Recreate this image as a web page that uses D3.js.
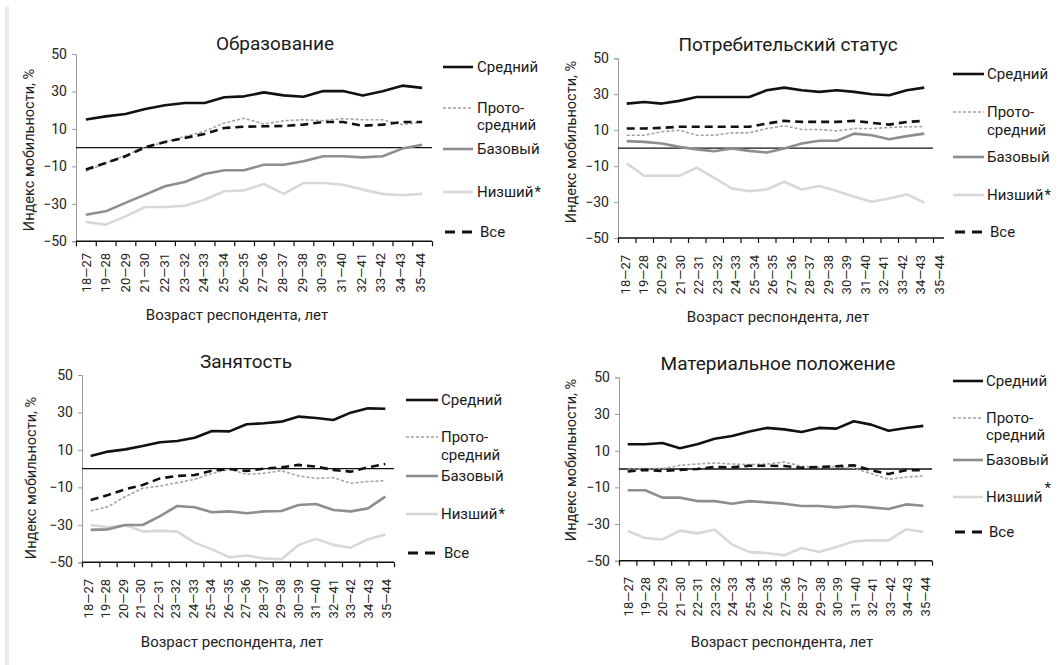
<!DOCTYPE html>
<html>
<head>
<meta charset="utf-8">
<script src="https://cdn.jsdelivr.net/npm/d3@7"></script>
<style>
  body { margin: 0; background: #fff; }
  svg { font-family: Roboto, "Noto Sans", sans-serif; }
</style>
</head>
<body>
<script>
// age windows of respondents
var ageGroups = ["18—27","19—28","20—29","21—30","22—31","23—32","24—33","25—34","26—35",
  "27—36","28—37","29—38","30—39","31—40","32—41","33—42","34—43","35—44"];

var yTicks = [50, 30, 10, -10, -30, -50];

// Образование
var eduMiddle = [15, 16.7, 18, 20.6, 22.6, 23.8, 23.8, 26.9, 27.4, 29.5, 27.9, 27.2, 30.2, 30.2, 27.8, 30.1, 33.1, 31.9];
var eduProto  = [-12.6, -8.2, -4.1, 0.2, 3, 6, 8.7, 13.2, 15.7, 12.6, 14.4, 14.9, 14.4, 15.5, 14.9, 14.9, 12.3, 13.7];
var eduBase   = [-35.8, -34, -29.5, -25.1, -20.6, -18.3, -14.1, -12.1, -12.1, -9.1, -9.1, -7.3, -4.6, -4.6, -5.2, -4.6, -0.5, 1.6];
var eduLow    = [-39.7, -41.1, -36.7, -31.7, -31.7, -31, -27.8, -23.3, -22.8, -19.4, -24.7, -18.9, -18.9, -19.8, -22.4, -24.7, -25.4, -24.7];
var eduAll    = [-11.7, -8.2, -4.6, 0.2, 3, 5.2, 7.3, 10.5, 11.2, 11.4, 11.6, 12.3, 13.7, 13.7, 11.7, 12.3, 13.7, 13.7];

// Потребительский статус
var conMiddle = [24.8, 25.7, 24.8, 26.3, 28.5, 28.5, 28.5, 28.5, 32.2, 33.7, 32.2, 31.3, 32.2, 31.3, 30, 29.4, 32.2, 33.7];
var conProto  = [7.2, 7.2, 9.1, 10, 7.2, 7.2, 8.5, 8.5, 10.9, 12.4, 10.4, 10.4, 9.6, 10.9, 10.9, 11.5, 11.9, 11.9];
var conBase   = [3.9, 3.5, 2.6, 0.7, -0.7, -1.7, -0.2, -1.5, -2.4, -0.2, 2.6, 4.1, 4.1, 8.1, 7.2, 5, 6.7, 8.1];
var conLow    = [-8.5, -15.4, -15.4, -15.4, -10.9, -16.5, -22.4, -23.9, -23, -18.7, -23, -21.1, -23.9, -27, -29.8, -28, -25.6, -30.4];
var conAll    = [10.9, 10.9, 11.3, 11.9, 11.9, 11.9, 11.9, 11.9, 13.7, 15.2, 14.6, 14.6, 14.6, 15.2, 14.1, 13.1, 14.6, 15.2];

// Занятость
var empMiddle = [6.8, 9.1, 10.3, 12.1, 14.1, 14.8, 16.5, 20.1, 19.9, 23.7, 24.2, 25.1, 27.8, 27, 26, 29.9, 32.2, 32];
var empProto  = [-22.6, -20.3, -14.9, -10.5, -9.3, -7.5, -5.7, -2.5, -0.4, -3, -2.5, -1.1, -3.9, -5.2, -4.8, -7.8, -6.9, -6.4];
var empBase   = [-32.7, -32.4, -30.1, -30.1, -25.3, -19.9, -20.6, -23.3, -22.8, -23.8, -22.8, -22.6, -19.4, -18.9, -22.1, -22.8, -21.2, -14.9];
var empLow    = [-30.1, -31.3, -30.1, -33.6, -33.1, -33.6, -39.5, -43.1, -47.3, -46.4, -47.9, -48.4, -40.7, -37.5, -40.7, -42.2, -37.7, -35.1];
var empAll    = [-16.7, -14.1, -11, -8.7, -5.2, -3.9, -3.4, -1.1, -0.2, -1.2, 0, 0.7, 2, 1.1, -0.7, -1.6, 0.7, 2.5];

// Материальное положение
var matMiddle = [13.5, 13.5, 14.2, 11.3, 13.5, 16.5, 18, 20.5, 22.4, 21.6, 20.2, 22.4, 22, 26, 24.2, 20.9, 22.4, 23.5];
var matProto  = [-0.2, 0.2, 0.2, 2, 2.7, 3.3, 2.7, 2.4, 2.7, 3.8, 1.5, 0.9, 1.3, 0.4, -2.5, -5.6, -4.4, -3.8];
var matBase   = [-11.6, -11.6, -15.6, -15.6, -17.5, -17.5, -18.9, -17.5, -18.2, -18.9, -20.2, -20.2, -20.9, -20.2, -20.9, -21.8, -19.3, -20];
var matLow    = [-33.8, -37.6, -38.4, -33.6, -35.1, -33.1, -41.1, -45.3, -45.8, -47.1, -43.1, -45.3, -42.5, -39.5, -38.9, -38.9, -32.9, -34.4];
var matAll    = [-1.3, -0.5, -1.1, -0.5, 0, 1.1, 0.9, 1.8, 1.8, 1.6, 0.7, 1.1, 1.5, 2, -0.7, -2.7, -0.7, -0.7];

// line look for each group, in legend order
var styles = {
  middle: {color: "#111", width: 2.6, dash: null},
  proto:  {color: "#a3a3a3", width: 1.6, dash: "3,2"},
  base:   {color: "#8e8e8e", width: 2.6, dash: null},
  low:    {color: "#d8d8d8", width: 2.6, dash: null},
  all:    {color: "#111", width: 2.6, dash: "8,5"}
};

var panels = [
  {title: "Образование", series: {middle: eduMiddle, proto: eduProto, base: eduBase, low: eduLow, all: eduAll},
   x0: 76, x1: 432, axisEnd: 432, yTop: 54, yBot: 241.3, titleX: 275, titleY: 50,
   lab: [86, 420], labTop: 253, xTitle: [237, 320], yTitle: [29, 150],
   leg: {l0: 443, l1: 473, tx: 477, rows: [67, 108, 125, 149, 192, 232]}, starUp: false},
  {title: "Потребительский статус", series: {middle: conMiddle, proto: conProto, base: conBase, low: conLow, all: conAll},
   x0: 618, x1: 933, axisEnd: 944, yTop: 58.3, yBot: 238, titleX: 788, titleY: 51,
   lab: [625, 939], labTop: 255, xTitle: [778, 322], yTitle: [571, 142],
   leg: {l0: 953, l1: 984, tx: 987, rows: [74, 112, 130, 157, 195, 232]}, starUp: false},
  {title: "Занятость", series: {middle: empMiddle, proto: empProto, base: empBase, low: empLow, all: empAll},
   x0: 82, x1: 394, axisEnd: 394, yTop: 375, yBot: 562.3, titleX: 246, titleY: 368,
   lab: [88, 386], labTop: 579, xTitle: [232, 647], yTitle: [31, 478],
   leg: {l0: 406, l1: 438, tx: 441, rows: [400, 437, 455, 476, 514, 553]}, starUp: false},
  {title: "Материальное положение", series: {middle: matMiddle, proto: matProto, base: matBase, low: matLow, all: matAll},
   x0: 619, x1: 932, axisEnd: 932, yTop: 377.3, yBot: 560.7, titleX: 778, titleY: 370,
   lab: [628, 925], labTop: 577, xTitle: [782, 647], yTitle: [571, 460],
   leg: {l0: 953, l1: 983, tx: 986, rows: [381, 418, 435, 460, 497, 532]}, starUp: true}
];

var svg = d3.select("body").append("svg")
  .attr("width", 1061)
  .attr("height", 665);

// faint page edge on the left
svg.append("rect").attr("x", 5).attr("y", 6).attr("width", 4).attr("height", 659).style("fill", "#ebebeb");

var order = ["low", "base", "proto", "all", "middle"];

panels.forEach(function(p) {
  var g = svg.append("g");

  var x = d3.scaleBand().domain(ageGroups).range([p.x0, p.x1]);
  var xEdge = d3.scaleLinear().domain([0, ageGroups.length]).range([p.x0, p.x1]);
  var xLab = d3.scalePoint().domain(ageGroups).range(p.lab);
  var y = d3.scaleLinear().domain([-50, 50]).range([p.yBot, p.yTop]);

  // y axis
  var yAxis = g.append("g")
    .attr("transform", "translate(" + p.x0 + ",0)")
    .call(d3.axisLeft(y).tickValues(yTicks).tickSize(4).tickPadding(5));
  yAxis.select(".domain").style("stroke", "#9a9a9a");
  yAxis.selectAll(".tick line").style("stroke", "#9a9a9a");
  yAxis.selectAll("text").style("font-size", "14px").style("fill", "#222")
    .style("font-family", "Roboto, sans-serif");

  // x axis with ticks on the band edges
  var xAxis = g.append("g")
    .attr("transform", "translate(0," + p.yBot + ")")
    .call(d3.axisBottom(xEdge).tickValues(d3.range(ageGroups.length + 1)).tickSize(5).tickSizeOuter(0).tickFormat(""));
  xAxis.select(".domain").attr("d", "M" + p.x0 + ",0H" + p.axisEnd).style("stroke", "#111").style("stroke-width", 1.6);
  xAxis.selectAll(".tick line").style("stroke", "#111").style("stroke-width", 1.2);

  g.selectAll(".xlab")
    .data(ageGroups)
    .enter()
    .append("text")
    .attr("transform", function(d) { return "translate(" + (xLab(d) + 4.5) + "," + p.labTop + ") rotate(-90)"; })
    .attr("text-anchor", "end")
    .style("font-size", "13px")
    .style("fill", "#222")
    .text(function(d) { return d; });

  // zero line
  g.append("line")
    .attr("x1", p.x0).attr("x2", p.x1)
    .attr("y1", y(0)).attr("y2", y(0))
    .style("stroke", "#111").style("stroke-width", 1.3);

  var line = d3.line()
    .x(function(d, i) { return x(ageGroups[i]) + x.bandwidth() / 2; })
    .y(function(d) { return y(d); });

  order.forEach(function(k) {
    var s = styles[k];
    g.append("path")
      .datum(p.series[k])
      .attr("d", line)
      .style("fill", "none")
      .style("stroke", s.color)
      .style("stroke-width", s.width)
      .style("stroke-dasharray", s.dash)
      .style("stroke-linejoin", "round");
  });

  // titles
  g.append("text").attr("x", p.titleX).attr("y", p.titleY)
    .attr("text-anchor", "middle").style("font-size", "19px").style("fill", "#1a1a1a")
    .text(p.title);
  g.append("text").attr("x", p.xTitle[0]).attr("y", p.xTitle[1])
    .attr("text-anchor", "middle").style("font-size", "15px").style("fill", "#222")
    .text("Возраст респондента, лет");
  g.append("text")
    .attr("transform", "translate(" + p.yTitle[0] + "," + p.yTitle[1] + ") rotate(-90)")
    .attr("text-anchor", "middle").attr("dy", "0.35em")
    .style("font-size", "14.5px").style("fill", "#222")
    .text("Индекс мобильности, %");

  // legend
  var L = p.leg;
  var legItems = [
    {key: "middle", y: L.rows[0], lines: ["Средний"]},
    {key: "proto", y: L.rows[1], lines: ["Прото-", "средний"]},
    {key: "base", y: L.rows[3], lines: ["Базовый"]},
    {key: "low", y: L.rows[4], lines: ["Низший"]},
    {key: "all", y: L.rows[5], lines: ["Все"]}
  ];
  legItems.forEach(function(it) {
    var s = styles[it.key];
    var isAll = it.key === "all";
    g.append("line")
      .attr("x1", L.l0 + (isAll ? 2 : 0)).attr("x2", L.l1 - (isAll ? 1 : 0))
      .attr("y1", it.y).attr("y2", it.y)
      .style("stroke", s.color).style("stroke-width", isAll ? 3 : s.width)
      .style("stroke-dasharray", isAll ? "10,7" : s.dash);
    var t = g.append("text")
      .attr("x", L.tx + (isAll ? 3 : 0)).attr("y", it.y)
      .attr("dy", "0.35em")
      .style("font-size", "15px").style("fill", "#1a1a1a");
    if (it.key === "proto") {
      t.text(it.lines[0]);
      g.append("text").attr("x", L.tx).attr("y", L.rows[2]).attr("dy", "0.35em")
        .style("font-size", "15px").style("fill", "#1a1a1a").text(it.lines[1]);
    } else if (it.key === "low") {
      t.text(it.lines[0]);
      t.append("tspan").attr("dx", p.starUp ? 2 : 1).attr("dy", p.starUp ? -9 : 0).text("*");
    } else {
      t.text(it.lines[0]);
    }
  });
});
</script>
</body>
</html>
